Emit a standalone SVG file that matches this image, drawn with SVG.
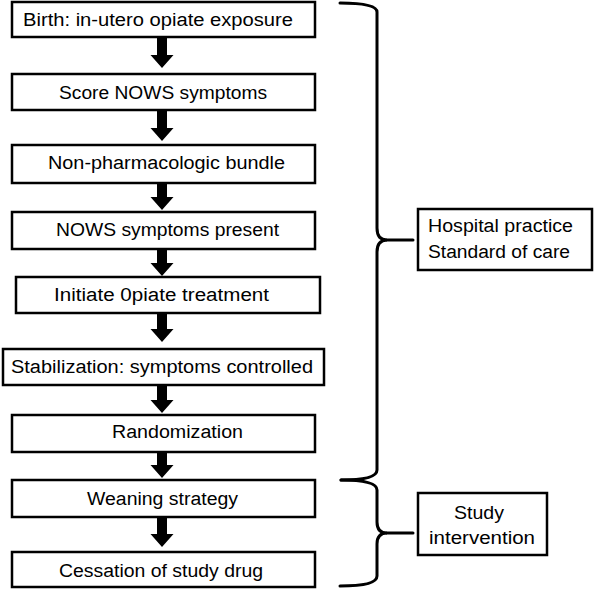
<svg xmlns="http://www.w3.org/2000/svg" width="594" height="589" viewBox="0 0 594 589">
<style>
.box{fill:#fff;stroke:#000;stroke-width:2.5}
.t{font-family:"Liberation Sans",Arial,sans-serif;font-size:18px;fill:#000;text-anchor:middle}
.tl{font-family:"Liberation Sans",Arial,sans-serif;font-size:18px;fill:#000}
.arr{fill:#000;stroke:none}
.brace{fill:none;stroke:#000;stroke-width:3;stroke-linecap:round}
</style>
<rect width="594" height="589" fill="#fff"/>
<g id="connectors">
<path class="arr" d="M157,37 L167,37 L167,55 L173.5,55 L162,68 L150.5,55 L157,55 Z"/>
<path class="arr" d="M157,110 L167,110 L167,128 L173.5,128 L162,141 L150.5,128 L157,128 Z"/>
<path class="arr" d="M157,183 L167,183 L167,197 L173.5,197 L162,210 L150.5,197 L157,197 Z"/>
<path class="arr" d="M157,249 L167,249 L167,263 L173.5,263 L162,276 L150.5,263 L157,263 Z"/>
<path class="arr" d="M157,313 L167,313 L167,329 L173.5,329 L162,342 L150.5,329 L157,329 Z"/>
<path class="arr" d="M157,385 L167,385 L167,400 L173.5,400 L162,413 L150.5,400 L157,400 Z"/>
<path class="arr" d="M157,452 L167,452 L167,465 L173.5,465 L162,478 L150.5,465 L157,465 Z"/>
<path class="arr" d="M157,517 L167,517 L167,534 L173.5,534 L162,547 L150.5,534 L157,534 Z"/>
<path class="brace" d="M340,3 Q377,3 377,12 L377,228 Q377,240 387,240 Q377,240 377,252 L377,470 Q377,480 341,480"/>
<path class="brace" d="M387,240 L413,240"/>
<path class="brace" d="M341,480 Q377,480 377,490 L377,522 Q377,533 387,533 Q377,533 377,544 L377,576 Q377,586 340,586"/>
<path class="brace" d="M387,533 L413,533"/>
</g>
<g id="n1"><rect class="box" x="12" y="2" width="303" height="35"/><text class="t" x="158" y="26" textLength="270" lengthAdjust="spacingAndGlyphs">Birth: in-utero opiate exposure</text></g>
<g id="n2"><rect class="box" x="12" y="74" width="303" height="36"/><text class="t" x="163" y="99" textLength="208" lengthAdjust="spacingAndGlyphs">Score NOWS symptoms</text></g>
<g id="n3"><rect class="box" x="12" y="145" width="303" height="38"/><text class="t" x="166.5" y="169" textLength="237" lengthAdjust="spacingAndGlyphs">Non-pharmacologic bundle</text></g>
<g id="n4"><rect class="box" x="12" y="212" width="303" height="37"/><text class="t" x="167.5" y="236" textLength="223" lengthAdjust="spacingAndGlyphs">NOWS symptoms present</text></g>
<g id="n5"><rect class="box" x="16" y="277" width="304" height="36"/><text class="t" x="161.5" y="301" textLength="215" lengthAdjust="spacingAndGlyphs">Initiate 0piate treatment</text></g>
<g id="n6"><rect class="box" x="3" y="349" width="321" height="36"/><text class="t" x="162" y="373" textLength="302" lengthAdjust="spacingAndGlyphs">Stabilization: symptoms controlled</text></g>
<g id="n7"><rect class="box" x="12" y="415" width="303" height="37"/><text class="t" x="177.5" y="438" textLength="131" lengthAdjust="spacingAndGlyphs">Randomization</text></g>
<g id="n8"><rect class="box" x="12" y="480" width="303" height="37"/><text class="t" x="162.5" y="505" textLength="151" lengthAdjust="spacingAndGlyphs">Weaning strategy</text></g>
<g id="n9"><rect class="box" x="12" y="552" width="303" height="35"/><text class="t" x="161" y="577" textLength="204" lengthAdjust="spacingAndGlyphs">Cessation of study drug</text></g>
<g id="label1"><rect class="box" x="418" y="209" width="174" height="61"/><text class="tl" x="428" y="232" textLength="145" lengthAdjust="spacingAndGlyphs">Hospital practice</text><text class="tl" x="428" y="258" textLength="142" lengthAdjust="spacingAndGlyphs">Standard of care</text></g>
<g id="label2"><rect class="box" x="418" y="493" width="129" height="62"/><text class="t" x="479" y="519" textLength="50" lengthAdjust="spacingAndGlyphs">Study</text><text class="t" x="482" y="544" textLength="106" lengthAdjust="spacingAndGlyphs">intervention</text></g>
</svg>
